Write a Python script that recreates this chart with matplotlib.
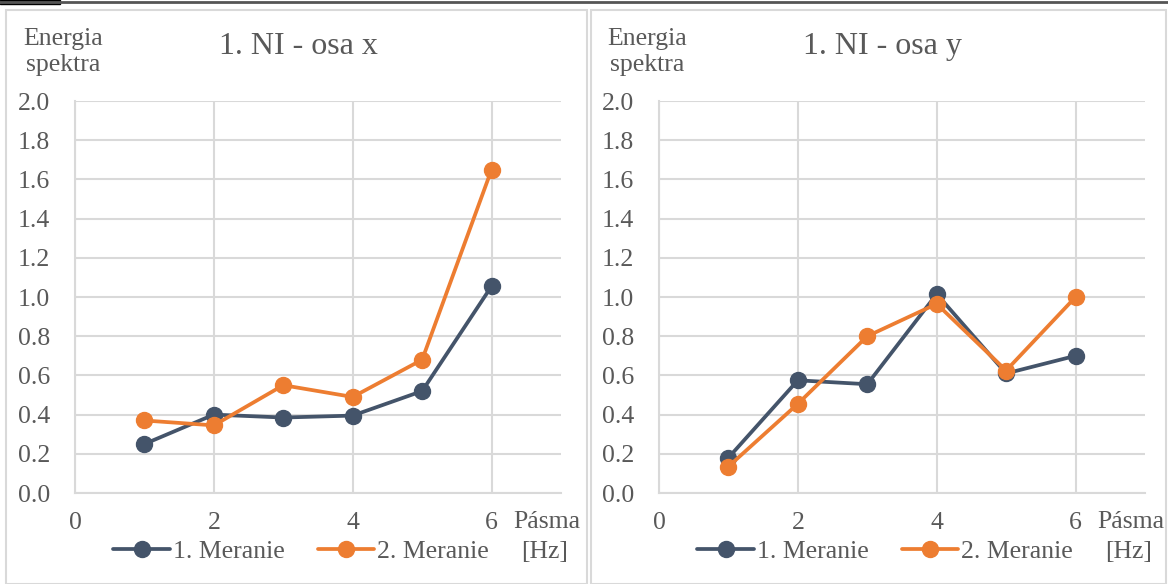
import matplotlib
matplotlib.use("Agg")
import matplotlib.pyplot as plt
from matplotlib.patches import Rectangle
from matplotlib.lines import Line2D

plt.rcParams['font.family'] = ['Liberation Serif', 'DejaVu Serif']

# --- Datos ---
pasma = [1, 2, 3, 4, 5, 6]
osa_x_m1 = [0.25, 0.40, 0.385, 0.395, 0.52, 1.055]
osa_x_m2 = [0.37, 0.345, 0.55, 0.49, 0.68, 1.65]
osa_y_m1 = [0.18, 0.575, 0.555, 1.015, 0.61, 0.70]
osa_y_m2 = [0.135, 0.455, 0.80, 0.965, 0.625, 1.00]
titulos = ['1. NI - osa x', '1. NI - osa y']
series_nombres = ['1. Meranie', '2. Meranie']
y_ticks = [0.0, 0.2, 0.4, 0.6, 0.8, 1.0, 1.2, 1.4, 1.6, 1.8, 2.0]
x_ticks = [0, 2, 4, 6]

c_m1 = '#44546A'
c_m2 = '#ED7D31'
gris = '#D9D9D9'
txt = '#595959'

W, H = 1168, 584
fig = plt.figure(figsize=(W / 100, H / 100), dpi=100)

# marcos de los paneles
for (x0, x1) in [(6, 587), (591, 1166)]:
    fig.patches.append(Rectangle((x0 / W, 0), (x1 - x0) / W, 1 - 10 / H,
                                 transform=fig.transFigure, fill=False,
                                 edgecolor=gris, linewidth=1.5))
fig.lines.append(Line2D([0, 1], [1 - 1.5 / H, 1 - 1.5 / H], transform=fig.transFigure,
                        color='#555555', linewidth=2))
fig.patches.append(Rectangle((0, 1 - 4 / H), 60 / W, 4 / H, transform=fig.transFigure,
                             color='black'))

paneles = [(75, osa_x_m1, osa_x_m2, titulos[0]), (659, osa_y_m1, osa_y_m2, titulos[1])]
for left_px, m1, m2, titulo in paneles:
    ax = fig.add_axes([left_px / W, 1 - 493 / H, 486 / W, 392 / H])
    ax.plot(pasma, m1, color=c_m1, lw=2.7, marker='o', ms=11.5, label=series_nombres[0],
            solid_capstyle='round', zorder=3)
    ax.plot(pasma, m2, color=c_m2, lw=2.7, marker='o', ms=11.5, label=series_nombres[1],
            solid_capstyle='round', zorder=3)
    ax.set_xlim(0, 7)
    ax.set_ylim(0, 2.0)
    ax.set_xticks(x_ticks)
    ax.set_yticks(y_ticks)
    ax.set_yticklabels([f'{v:.1f}' for v in y_ticks])
    ax.grid(True, color=gris, linewidth=1.5)
    ax.set_axisbelow(True)
    for s in ['top', 'right']:
        ax.spines[s].set_visible(False)
    for s in ['left', 'bottom']:
        ax.spines[s].set_color(gris)
        ax.spines[s].set_linewidth(1.5)
    ax.tick_params(length=0, labelsize=18.5, labelcolor=txt, pad=18)
    ax.tick_params(axis='x', pad=14)

    ax.text(0.46, 1.14, titulo, transform=ax.transAxes, ha='center', va='center',
            fontsize=23, color=txt)
    ax.text(-0.024, 1.125, 'Energia\nspektra', transform=ax.transAxes, ha='center',
            va='center', fontsize=18.5, color=txt, linespacing=1.2)
    ax.text(6.79, -0.074, 'Pásma', transform=ax.get_xaxis_transform(), ha='center',
            va='center', fontsize=18.5, color=txt)
    ax.text(6.76, -0.15, '[Hz]', transform=ax.get_xaxis_transform(), ha='center',
            va='center', fontsize=18.5, color=txt)
    ax.legend(loc='center', bbox_to_anchor=(0.465, -0.148), ncol=2, frameon=False,
              fontsize=18.5, labelcolor=txt, handlelength=2.2, handletextpad=0.1,
              columnspacing=1.3, borderpad=0)

fig.savefig('out.png', dpi=100)
